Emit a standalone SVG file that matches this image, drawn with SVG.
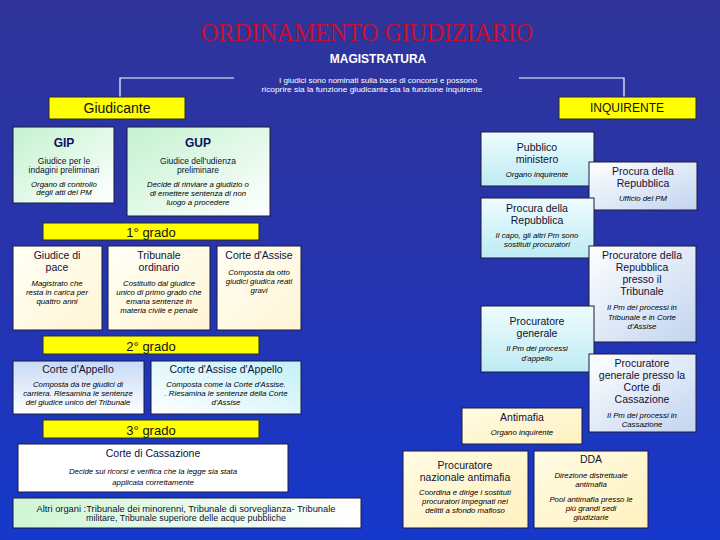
<svg xmlns="http://www.w3.org/2000/svg" width="720" height="540" viewBox="0 0 720 540">
<defs>
<linearGradient id="bg" x1="0" y1="0" x2="0" y2="1">
<stop offset="0" stop-color="#30349a"/><stop offset="0.5" stop-color="#2634ae"/><stop offset="1" stop-color="#1538cc"/>
</linearGradient>
<linearGradient id="gMint" x1="0" y1="0" x2="1" y2="1"><stop offset="0" stop-color="#c4f2d0"/><stop offset="1" stop-color="#ffffff"/></linearGradient>
<linearGradient id="gCyan" x1="0" y1="0" x2="0" y2="1"><stop offset="0" stop-color="#eefcfd"/><stop offset="1" stop-color="#bdebf4"/></linearGradient>
<linearGradient id="gBlue" x1="0" y1="0" x2="1" y2="1"><stop offset="0" stop-color="#ffffff"/><stop offset="1" stop-color="#c2d4ef"/></linearGradient>
<linearGradient id="gCream" x1="0" y1="0" x2="1" y2="1"><stop offset="0" stop-color="#fffff6"/><stop offset="1" stop-color="#fff5d4"/></linearGradient>
<linearGradient id="gApp" x1="0" y1="0" x2="0" y2="1"><stop offset="0" stop-color="#c6daf6"/><stop offset="1" stop-color="#ffffff"/></linearGradient>
<linearGradient id="gAssApp" x1="1" y1="0" x2="0" y2="1"><stop offset="0" stop-color="#c2f0f8"/><stop offset="1" stop-color="#ffffff"/></linearGradient>
<linearGradient id="gAltri" x1="0" y1="0" x2="1" y2="0"><stop offset="0" stop-color="#cff6d4"/><stop offset="1" stop-color="#ffffff"/></linearGradient>
<linearGradient id="gYel" x1="0" y1="0" x2="1" y2="1"><stop offset="0" stop-color="#fffce4"/><stop offset="1" stop-color="#fff0bf"/></linearGradient>
<style>
text{font-family:"Liberation Sans",Arial,sans-serif;text-anchor:middle;}
.box{stroke:#1a1a3a;stroke-width:1;}
.yb{fill:#ffff00;stroke:#2a2a2a;stroke-width:1;}
.yt{font-size:13px;fill:#111;}
.h{font-size:10.5px;fill:#111133;}
.hb{font-size:12px;font-weight:bold;fill:#0b1260;}
.s{font-size:8.5px;fill:#111133;}
.d{font-size:7.8px;font-style:italic;fill:#000;}
.conn{fill:none;stroke:#ffffff;stroke-width:1.2;}
</style>
</defs>
<rect x="0" y="0" width="720" height="540" fill="url(#bg)"/>

<g id="header">
<text x="367" y="41" font-family="'Liberation Serif','Times New Roman',serif" font-size="25" fill="#c8102e" textLength="332" lengthAdjust="spacingAndGlyphs" style="font-family:'Liberation Serif','Times New Roman',serif">ORDINAMENTO GIUDIZIARIO</text>
<text x="378" y="63" font-size="12" font-weight="bold" fill="#ffffff">MAGISTRATURA</text>
<text x="378" y="83" font-size="7.5" fill="#ffffff" textLength="198" lengthAdjust="spacingAndGlyphs">I giudici sono nominati sulla base di concorsi e possono</text>
<text x="372" y="92" font-size="7.5" fill="#ffffff" textLength="221" lengthAdjust="spacingAndGlyphs">ricoprire sia la funzione giudicante sia la funzione inquirente</text>
</g>

<g id="connectors">
<polyline class="conn" points="234,78 120,78 120,97"/>
<polyline class="conn" points="519,78 624,78 624,97"/>
</g>

<g id="giudicante"><rect class="yb" x="49" y="97" width="136" height="22"/><text x="117" y="113" font-size="14" fill="#111">Giudicante</text></g>
<g id="inquirente"><rect class="yb" x="559" y="97" width="137" height="22"/><text x="627" y="112" font-size="12" fill="#111">INQUIRENTE</text></g>

<g id="gip"><rect class="box" x="13" y="127" width="101" height="76" fill="url(#gMint)"/>
<text class="hb" x="64" y="147">GIP</text>
<text class="s" x="64" y="164">Giudice per le</text><text class="s" x="64" y="173">indagini preliminari</text>
<text class="d" x="64" y="187">Organo di controllo</text><text class="d" x="64" y="195">degli atti del PM</text></g>

<g id="gup"><rect class="box" x="127" y="127" width="143" height="89" fill="url(#gMint)"/>
<text class="hb" x="198" y="147">GUP</text>
<text class="s" x="198" y="164">Giudice dell'udienza</text><text class="s" x="198" y="173">preliminare</text>
<text class="d" x="198" y="187">Decide di rinviare a giudizio o</text><text class="d" x="198" y="196">di emettere sentenza di non</text><text class="d" x="198" y="205">luogo a procedere</text></g>

<g id="pm"><rect class="box" x="481" y="132" width="113" height="54" fill="url(#gCyan)"/>
<text class="h" x="537" y="151">Pubblico</text><text class="h" x="537" y="163">ministero</text>
<text class="d" x="537" y="177">Organo inquirente</text></g>

<g id="procura1"><rect class="box" x="589" y="162" width="108" height="48" fill="url(#gBlue)"/>
<text class="h" x="643" y="175">Procura della</text><text class="h" x="643" y="187">Repubblica</text>
<text class="d" x="643" y="201">Ufficio del PM</text></g>

<g id="procura2"><rect class="box" x="481" y="198" width="113" height="60" fill="url(#gCyan)"/>
<text class="h" x="537" y="212">Procura della</text><text class="h" x="537" y="224">Repubblica</text>
<text class="d" x="537" y="238">Il capo, gli altri Pm  sono</text><text class="d" x="537" y="247">sostituti procuratori</text></g>

<g id="procuratore-rep"><rect class="box" x="589" y="246" width="107" height="96" fill="url(#gBlue)"/>
<text class="h" x="642" y="259">Procuratore della</text><text class="h" x="642" y="271">Repubblica</text><text class="h" x="642" y="283">presso il</text><text class="h" x="642" y="295">Tribunale</text>
<text class="d" x="642" y="310">Il Pm  dei processi in</text><text class="d" x="642" y="320">Tribunale e in Corte</text><text class="d" x="642" y="329">d'Assise</text></g>

<g id="procuratore-gen"><rect class="box" x="481" y="306" width="113" height="66" fill="url(#gCyan)"/>
<text class="h" x="537" y="325">Procuratore</text><text class="h" x="537" y="337">generale</text>
<text class="d" x="537" y="351">Il Pm  dei processi</text><text class="d" x="537" y="361">d'appello</text></g>

<g id="pg-cassazione"><rect class="box" x="589" y="354" width="107" height="78" fill="url(#gBlue)"/>
<text class="h" x="642" y="367">Procuratore</text><text class="h" x="642" y="379">generale presso la</text><text class="h" x="642" y="391">Corte di</text><text class="h" x="642" y="403">Cassazione</text>
<text class="d" x="642" y="418">Il Pm  dei processi in</text><text class="d" x="642" y="427">Cassazione</text></g>

<g id="antimafia"><rect class="box" x="462" y="408" width="120" height="36" fill="url(#gYel)"/>
<text class="h" x="522" y="421">Antimafia</text><text class="d" x="522" y="435">Organo inquirente</text></g>

<g id="pna"><rect class="box" x="403" y="451" width="125" height="77" fill="url(#gYel)"/>
<text class="h" x="465" y="469">Procuratore</text><text class="h" x="465" y="481">nazionale antimafia</text>
<text class="d" x="465" y="495">Coordina e dirige i sostituti</text><text class="d" x="465" y="504">procuratori impegnati nei</text><text class="d" x="465" y="513">delitti a sfondo mafioso</text></g>

<g id="dda"><rect class="box" x="534" y="451" width="114" height="77" fill="url(#gYel)"/>
<text class="h" x="591" y="463">DDA</text>
<text class="d" x="591" y="478">Direzione distrettuale</text><text class="d" x="591" y="487">antimafia</text>
<text class="d" x="591" y="502">Pool antimafia presso le</text><text class="d" x="591" y="511">più grandi sedi</text><text class="d" x="591" y="520">giudiziarie</text></g>

<g id="grado1"><rect class="yb" x="43" y="223" width="216" height="17"/><text class="yt" x="151" y="237">1° grado</text></g>

<g id="giudice-pace"><rect class="box" x="13" y="246" width="89" height="84" fill="url(#gCream)"/>
<text class="h" x="57" y="259">Giudice di</text><text class="h" x="57" y="271">pace</text>
<text class="d" x="57" y="286">Magistrato che</text><text class="d" x="57" y="295">resta in carica per</text><text class="d" x="57" y="304">quattro anni</text></g>

<g id="tribunale"><rect class="box" x="108" y="246" width="102" height="84" fill="url(#gCream)"/>
<text class="h" x="159" y="259">Tribunale</text><text class="h" x="159" y="271">ordinario</text>
<text class="d" x="159" y="286">Costituito dal giudice</text><text class="d" x="159" y="295">unico di primo grado che</text><text class="d" x="159" y="304">emana sentenze in</text><text class="d" x="159" y="313">materia civile e penale</text></g>

<g id="corte-assise"><rect class="box" x="217" y="246" width="84" height="84" fill="url(#gCream)"/>
<text class="h" x="259" y="259">Corte d'Assise</text>
<text class="d" x="259" y="275">Composta da otto</text><text class="d" x="259" y="284">giudici giudica reati</text><text class="d" x="259" y="293">gravi</text></g>

<g id="grado2"><rect class="yb" x="43" y="336" width="216" height="18"/><text class="yt" x="151" y="351">2° grado</text></g>

<g id="corte-appello"><rect class="box" x="13" y="361" width="131" height="53" fill="url(#gApp)"/>
<text class="h" x="78" y="373">Corte d'Appello</text>
<text class="d" x="78" y="387">Composta da tre giudici di</text><text class="d" x="78" y="396">carriera. Riesamina le sentenze</text><text class="d" x="78" y="405">del giudice unico del Tribunale</text></g>

<g id="corte-assise-appello"><rect class="box" x="151" y="361" width="150" height="53" fill="url(#gAssApp)"/>
<text class="h" x="226" y="373">Corte d'Assise d'Appello</text>
<text class="d" x="226" y="387">Composta come la Corte d'Assise.</text><text class="d" x="226" y="396">. Riesamina le sentenze della Corte</text><text class="d" x="226" y="405">d'Assise</text></g>

<g id="grado3"><rect class="yb" x="43" y="420" width="216" height="18"/><text class="yt" x="151" y="435">3° grado</text></g>

<g id="cassazione"><rect class="box" x="18" y="444" width="270" height="48" fill="#ffffff"/>
<text class="h" x="153" y="457">Corte di Cassazione</text>
<text class="d" x="153" y="474">Decide sui ricorsi e verifica che la legge sia stata</text><text class="d" x="153" y="485">applicata correttamente</text></g>

<text x="358" y="525" font-size="10" fill="#ffffff">5</text>

<g id="altri-organi"><rect class="box" x="13" y="498" width="348" height="30" fill="url(#gAltri)"/>
<text x="186" y="512" font-size="9.5" fill="#111133" textLength="299" lengthAdjust="spacingAndGlyphs">Altri organi :Tribunale dei minorenni, Tribunale di sorveglianza- Tribunale</text>
<text x="186" y="521" font-size="8.5" fill="#111133" textLength="200" lengthAdjust="spacingAndGlyphs">militare, Tribunale superiore delle acque pubbliche</text></g>
</svg>
